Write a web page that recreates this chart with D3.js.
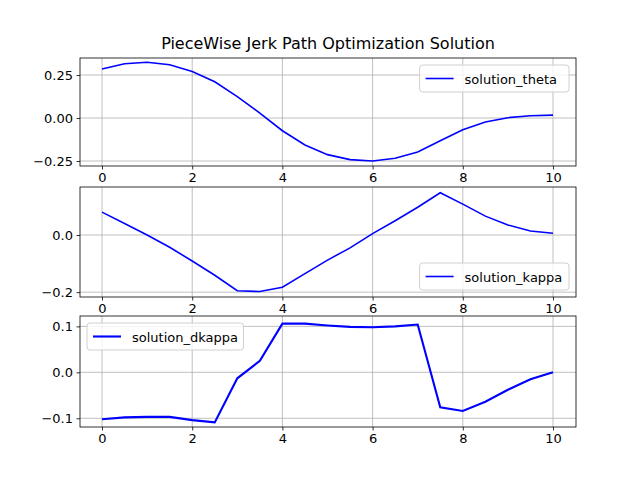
<!DOCTYPE html>
<html><head><meta charset="utf-8">
<script src="https://cdn.jsdelivr.net/npm/d3@7"></script>
<style>body{margin:0;background:#fff}text{font-family:"DejaVu Sans",sans-serif}</style>
</head><body><svg id="c" width="640" height="480"></svg>
<script>
const xs = d3.range(21).map(i => i * 0.5)
const theta = [0.285,0.316,0.324,0.31,0.271,0.211,0.124,0.029,-0.074,-0.157,-0.213,-0.242,-0.25,-0.234,-0.198,-0.132,-0.068,-0.023,0.002,0.013,0.017]
const kappa = [0.080,0.040,0.0,-0.043,-0.091,-0.141,-0.195,-0.198,-0.183,-0.135,-0.088,-0.045,0.005,0.05,0.097,0.148,0.108,0.066,0.035,0.014,0.006]
const dkappa = [-0.102,-0.098,-0.097,-0.097,-0.104,-0.109,-0.013,0.025,0.106,0.106,0.102,0.099,0.098,0.1,0.104,-0.076,-0.084,-0.064,-0.038,-0.015,0]
const xTicks = [0, 2, 4, 6, 8, 10]

const panels = [
  {name: 'solution_theta', data: theta, top: 58, bottom: 166, dom: [-0.279, 0.349], ticks: [-0.25, 0, 0.25], fmt: d3.format('.2f'), legend: 'ur', w: 1.6},
  {name: 'solution_kappa', data: kappa, top: 187, bottom: 297, dom: [-0.217, 0.168], ticks: [-0.2, 0], fmt: d3.format('.1f'), legend: 'lr', w: 1.6},
  {name: 'solution_dkappa', data: dkappa, top: 316, bottom: 427, dom: [-0.119, 0.1226], ticks: [-0.1, 0, 0.1], fmt: d3.format('.1f'), legend: 'ul', w: 2.1}
]
const L = 80, R = 576
const svg = d3.select('#c')
const x = d3.scaleLinear().domain([-0.488, 10.51]).range([L, R])
const minus = s => s.replace('-', '\u2212')

panels.forEach(p => {
  const y = d3.scaleLinear().domain(p.dom).range([p.bottom, p.top])
  const g = svg.append('g')
  g.selectAll('.gx').data(xTicks).join('line')
    .attr('x1', d => x(d)).attr('x2', d => x(d)).attr('y1', p.top).attr('y2', p.bottom)
    .attr('stroke', '#b0b0b0').attr('stroke-width', 0.8)
  g.selectAll('.gy').data(p.ticks).join('line')
    .attr('x1', L).attr('x2', R).attr('y1', d => y(d)).attr('y2', d => y(d))
    .attr('stroke', '#b0b0b0').attr('stroke-width', 0.8)
  g.append('path').datum(p.data)
    .attr('d', d3.line().x((d, i) => x(xs[i])).y(d => y(d)))
    .attr('fill', 'none').attr('stroke', 'blue').attr('stroke-width', p.w)
  g.append('rect').attr('x', L).attr('y', p.top).attr('width', R - L).attr('height', p.bottom - p.top)
    .attr('fill', 'none').attr('stroke', '#000').attr('stroke-width', 0.8)
  const ax = g.append('g').attr('transform', `translate(0,${p.bottom})`)
    .call(d3.axisBottom(x).tickValues(xTicks).tickSize(3.5).tickPadding(3.5))
  const ay = g.append('g').attr('transform', `translate(${L},0)`)
    .call(d3.axisLeft(y).tickValues(p.ticks).tickSize(3.5).tickPadding(3.5).tickFormat(d => minus(p.fmt(d))))
  ;[ax, ay].forEach(a => {
    a.select('.domain').remove()
    a.selectAll('text').attr('font-size', 13).attr('fill', '#000').attr('font-family', 'DejaVu Sans')
    a.selectAll('line').attr('stroke', '#000').attr('stroke-width', 0.8)
  })
  // legend
  const lw = p.name.length * 7.1 + 50, lh = 27
  const lx = p.legend === 'ul' ? L + 7 : R - 7 - lw
  const ly = p.legend === 'lr' ? p.bottom - 7 - lh : p.top + 7
  const lg = g.append('g').attr('transform', `translate(${lx},${ly})`)
  lg.append('rect').attr('width', lw).attr('height', lh).attr('rx', 3)
    .attr('fill', '#fff').attr('fill-opacity', 0.8).attr('stroke', '#d0d0d0')
  lg.append('line').attr('x1', 6).attr('x2', 34).attr('y1', lh / 2).attr('y2', lh / 2)
    .attr('stroke', 'blue').attr('stroke-width', p.w)
  lg.append('text').attr('x', 45).attr('y', lh / 2 + 5).attr('font-size', 13).text(p.name)
})
svg.append('text').attr('x', (L + R) / 2).attr('y', 49).attr('text-anchor', 'middle')
  .attr('font-size', 16).text('PieceWise Jerk Path Optimization Solution')
</script></body></html>
